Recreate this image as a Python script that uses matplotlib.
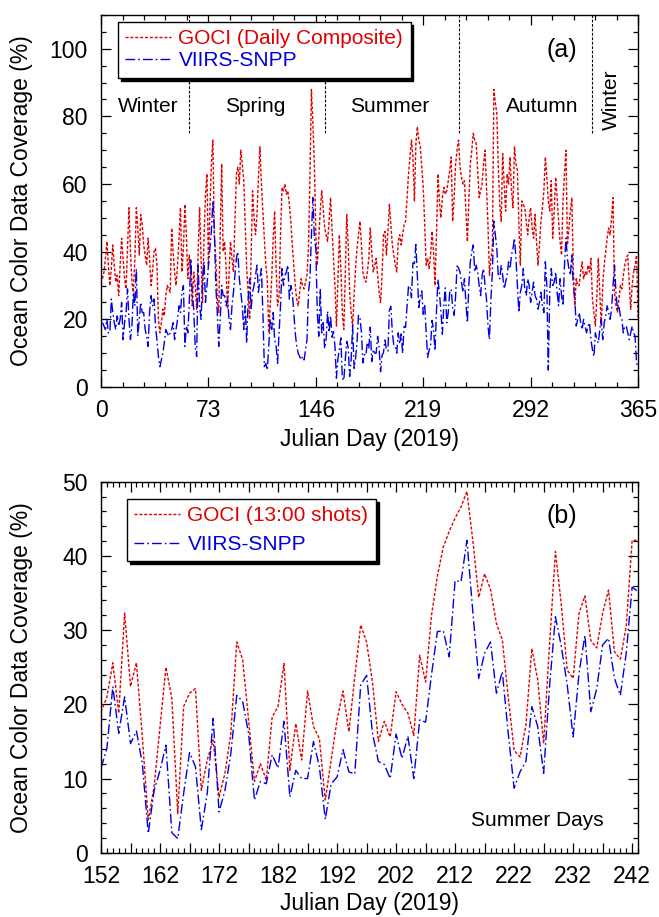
import numpy as np
import matplotlib
matplotlib.use("Agg")
import matplotlib.pyplot as plt
from matplotlib.ticker import FixedLocator, MultipleLocator, FuncFormatter

plt.rcParams["font.family"] = ["Liberation Sans", "DejaVu Sans"]

# ---- data ----
# (a) GOCI daily composite coverage, Julian day 1..365
goci_daily = [
    32, 34, 38, 43, 36, 30, 35, 42, 36, 31,
    33, 27, 36, 44, 38, 32, 29, 41, 53, 40,
    31, 28, 38, 53, 47, 39, 51, 48, 42, 39,
    36, 44, 38, 30, 34, 40, 41, 36, 20, 16,
    19, 23, 21, 27, 30, 29, 28, 47, 40, 34,
    30, 36, 44, 53, 34, 41, 54, 45, 32, 39,
    33, 24, 34, 30, 23, 40, 53, 38, 25, 44,
    57, 63, 36, 52, 66, 73, 45, 38, 26, 22,
    45, 66, 40, 43, 35, 23, 33, 43, 38, 34,
    48, 63, 65, 60, 70, 66, 61, 48, 35, 28,
    20, 38, 58, 50, 45, 51, 62, 71, 60, 52,
    44, 36, 32, 16, 24, 32, 44, 52, 35, 24,
    27, 45, 59, 58, 60, 57, 58, 54, 49, 42,
    36, 30, 26, 24, 28, 32, 30, 29, 31, 33,
    41, 62, 88, 78, 66, 45, 36, 44, 52, 58,
    53, 47, 45, 43, 49, 56, 47, 38, 30, 18,
    32, 45, 35, 22, 17, 33, 51, 42, 28, 22,
    18, 27, 35, 41, 45, 49, 42, 34, 32, 31,
    34, 38, 47, 40, 34, 36, 38, 33, 28, 25,
    33, 45, 46, 39, 46, 54, 48, 42, 39, 36,
    34, 43, 45, 42, 45, 48, 49, 56, 63, 68,
    73, 68, 55, 72, 77, 73, 71, 65, 59, 48,
    36, 38, 35, 39, 46, 40, 30, 45, 63, 55,
    50, 56, 59, 57, 58, 61, 64, 68, 49, 56,
    66, 70, 73, 65, 62, 60, 61, 52, 43, 55,
    66, 70, 75, 73, 72, 64, 56, 58, 60, 66,
    70, 59, 48, 33, 38, 41, 88, 84, 81, 65,
    54, 49, 69, 60, 52, 63, 60, 68, 58, 53,
    71, 66, 64, 48, 36, 55, 54, 53, 49, 45,
    50, 53, 47, 44, 51, 43, 36, 42, 49, 53,
    58, 68, 62, 55, 52, 61, 44, 52, 62, 56,
    49, 43, 39, 55, 63, 70, 42, 47, 52, 56,
    35, 24, 32, 30, 30, 34, 37, 32, 34, 33,
    36, 34, 38, 26, 22, 18, 27, 38, 28, 18,
    30, 36, 40, 44, 47, 45, 50, 56, 28, 24,
    22, 26, 30, 29, 33, 36, 38, 39, 31, 23,
    30, 34, 36, 39, 20,
]

# VIIRS-SNPP coverage, days 1..151
viirs_jan_may = [
    19, 18, 17, 20, 16, 16, 26, 22, 19, 17,
    21, 18, 20, 25, 14, 19, 22, 29, 20, 14,
    18, 28, 24, 35, 15, 20, 25, 22, 22, 17,
    15, 12, 22, 27, 24, 26, 18, 14, 9, 6,
    8, 10, 13, 17, 16, 15, 16, 17, 19, 14,
    17, 20, 24, 22, 28, 30, 12, 18, 16, 25,
    38, 28, 23, 12, 9, 36, 24, 20, 32, 37,
    25, 30, 36, 41, 46, 55, 47, 30, 22, 12,
    20, 30, 27, 27, 24, 26, 20, 17, 24, 28,
    33, 38, 40, 32, 28, 24, 17, 24, 13, 26,
    32, 23, 28, 30, 33, 36, 28, 32, 35, 22,
    6, 7, 5, 12, 20, 17, 22, 14, 12, 7,
    16, 24, 35, 30, 33, 34, 36, 26, 30, 28,
    22, 16, 12, 10, 9, 8, 9, 8, 11, 14,
    28, 32, 45, 56, 44, 41, 22, 15, 29, 16,
    19,
]

# VIIRS-SNPP coverage, summer days 152..243 (also panel b)
summer_days = list(range(152, 244))
viirs_summer = [
    11.4, 14.1, 22.4, 16.1, 21.0, 14.7, 16.4, 12.0, 2.6, 8.4,
    11.1, 14.5, 2.7, 1.9, 8.0, 13.5, 11.6, 3.1, 8.0, 18.1,
    5.5, 8.4, 13.4, 21.2, 20.4, 16.1, 7.1, 9.6, 9.3, 13.2,
    11.4, 17.7, 7.5, 11.1, 10.0, 10.0, 15.0, 11.6, 4.5, 9.3,
    10.2, 13.9, 10.9, 10.6, 22.6, 23.9, 16.1, 12.3, 11.9, 10.0,
    16.0, 12.7, 15.7, 10.0, 17.9, 17.6, 24.0, 29.8, 29.9, 26.4,
    36.7, 36.5, 42.1, 32.5, 23.5, 26.9, 28.4, 21.5, 24.4, 16.1,
    8.7, 10.9, 12.3, 19.7, 17.0, 10.7, 22.4, 31.8, 27.8, 22.6,
    15.6, 24.2, 29.3, 19.0, 22.1, 28.0, 28.9, 23.5, 21.2, 26.9,
    35.8, 35.2,
]

# VIIRS-SNPP coverage, days 244..365
viirs_sep_dec = [
    34, 31, 28, 32, 25, 19, 30, 37, 40, 42,
    34, 36, 34, 30, 27, 33, 35, 30, 26, 18,
    14, 26, 34, 49, 45, 41, 33, 32, 36, 33,
    29, 31, 33, 37, 35, 39, 41, 44, 38, 30,
    22, 28, 30, 35, 29, 27, 32, 30, 25, 28,
    31, 27, 26, 23, 25, 28, 24, 22, 37, 30,
    5, 28, 35, 30, 31, 34, 28, 24, 32, 27,
    24, 36, 44, 38, 35, 33, 39, 30, 26, 18,
    20, 22, 19, 17, 20, 18, 16, 18, 19, 14,
    11, 9, 16, 14, 13, 17, 20, 14, 19, 21,
    24, 22, 20, 23, 30, 36, 28, 23, 24, 21,
    20, 16, 18, 18, 16, 14, 16, 18, 16, 15,
    7, 6,
]

# (b) GOCI 13:00 shots, summer days 152..243
goci_1300 = [
    19.0, 21.0, 25.6, 18.8, 32.3, 22.4, 25.6, 15.6, 4.4, 8.9,
    17.0, 25.0, 20.8, 5.3, 19.7, 21.5, 22.1, 8.4, 12.5, 15.2,
    7.5, 10.7, 16.1, 28.4, 26.0, 17.9, 9.6, 12.0, 9.8, 18.3,
    19.7, 25.5, 11.1, 17.4, 12.5, 21.8, 17.0, 15.4, 7.1, 12.5,
    17.9, 21.8, 16.3, 23.7, 30.7, 28.4, 23.0, 15.0, 17.7, 15.6,
    21.7, 20.0, 18.8, 15.8, 26.6, 23.0, 32.0, 37.3, 41.2, 43.3,
    45.1, 46.6, 48.7, 42.1, 34.4, 37.6, 35.5, 30.9, 28.7, 21.0,
    13.8, 12.9, 17.2, 27.5, 23.3, 14.7, 28.0, 40.6, 33.4, 24.6,
    23.5, 32.3, 34.6, 28.6, 27.6, 32.3, 35.4, 27.1, 26.1, 30.5,
    42.1, 42.1,
]

year_days = np.arange(1, 366)
viirs_daily = viirs_jan_may + viirs_summer + viirs_sep_dec

season_bounds = [60, 152, 243, 334]
season_names = ["Winter", "Spring", "Summer", "Autumn"]
season_label_x = [32, 105, 196, 300]

RED = "#e00000"
BLUE = "#0000e0"
RED_DASH = (0, (2.2, 1.3))
BLUE_DASHDOT = (0, (7, 2.2, 1.2, 2.2))

TICK_FS = 16.5
LABEL_FS = 16.5
TEXT_FS = 15


def style_axes(ax):
    for s in ax.spines.values():
        s.set_linewidth(1.0)
    ax.tick_params(which="both", direction="in", top=True, right=True,
                   labelsize=TICK_FS, width=0.9)
    ax.tick_params(which="major", length=7)
    ax.tick_params(which="minor", length=3.5)
    ax.tick_params(axis="x", pad=8.5)
    ax.tick_params(axis="y", pad=9.5)


def add_legend(ax, anchor, spacing):
    leg = ax.legend(loc="upper left", bbox_to_anchor=anchor, borderaxespad=0,
                    fontsize=TEXT_FS, fancybox=False, edgecolor="black",
                    framealpha=1, handlelength=2.2, handletextpad=0.35,
                    borderpad=0.35, labelspacing=spacing,
                    labelcolor="linecolor",
                    shadow={"color": "black", "alpha": 1})
    leg.get_frame().set_linewidth(1.0)
    return leg


fig = plt.figure(figsize=(6.59, 9.17), dpi=100)

# ---- panel (a): full year ----
ax1 = fig.add_axes([0.1533, 0.578, 0.8149, 0.4057])
ax1.plot(year_days, goci_daily, color=RED, lw=1.0, ls=RED_DASH,
         label="GOCI (Daily Composite)")
ax1.plot(year_days, viirs_daily, color=BLUE, lw=1.0, ls=BLUE_DASHDOT,
         label="VIIRS-SNPP")
ax1.vlines(season_bounds, 75, 110, colors="black", lw=0.8,
           linestyles=(0, (2.5, 1.5)), zorder=1)
for name, xpos in zip(season_names, season_label_x):
    ax1.text(xpos, 83, name, fontsize=TEXT_FS, ha="center", va="center")
ax1.text(347, 85, "Winter", fontsize=TEXT_FS, ha="center", va="center",
         rotation=90)
ax1.text(313, 99.5, "(a)", fontsize=18, ha="center", va="center")

ax1.set_xlim(0, 365)
ax1.set_ylim(0, 110)
ax1.set_xticks([0, 73, 146, 219, 292, 365])
ax1.xaxis.set_minor_locator(MultipleLocator(14.6))
ax1.set_yticks([0, 20, 40, 60, 80, 100])
ax1.yaxis.set_minor_locator(MultipleLocator(5))
style_axes(ax1)
ax1.set_xlabel("Julian Day (2019)", fontsize=LABEL_FS)
ax1.set_ylabel("Ocean Color Data Coverage (%)", fontsize=LABEL_FS)
ax1.xaxis.set_label_coords(0.5, -0.11)
ax1.yaxis.set_label_coords(-0.127, 0.5)
add_legend(ax1, (0.0317, 0.981), 0.15)

# ---- panel (b): summer days ----
ax2 = fig.add_axes([0.1533, 0.0701, 0.8149, 0.4046])
ax2.plot(summer_days, goci_1300, color=RED, lw=1.0, ls=RED_DASH,
         label="GOCI (13:00 shots)")
ax2.plot(summer_days, viirs_summer, color=BLUE, lw=1.0, ls=BLUE_DASHDOT,
         label="VIIRS-SNPP")
ax2.text(230, 45.4, "(b)", fontsize=18, ha="center", va="center")
ax2.text(226, 4.3, "Summer Days", fontsize=TEXT_FS, ha="center", va="center")

ax2.set_xlim(152, 243)
ax2.set_ylim(0, 50)
ax2.xaxis.set_major_locator(FixedLocator(np.arange(152, 244, 5)))
ax2.xaxis.set_minor_locator(FixedLocator(np.arange(152, 244, 1)))
ax2.xaxis.set_major_formatter(
    FuncFormatter(lambda v, p: f"{int(round(v))}" if int(round(v - 152)) % 10 == 0 else ""))
ax2.yaxis.set_major_locator(MultipleLocator(10))
ax2.yaxis.set_minor_locator(MultipleLocator(2))
style_axes(ax2)
ax2.set_xlabel("Julian Day (2019)", fontsize=LABEL_FS)
ax2.set_ylabel("Ocean Color Data Coverage (%)", fontsize=LABEL_FS)
ax2.xaxis.set_label_coords(0.5, -0.107)
ax2.yaxis.set_label_coords(-0.127, 0.5)
add_legend(ax2, (0.0484, 0.953), 0.45)

fig.savefig("out.png", dpi=100)
